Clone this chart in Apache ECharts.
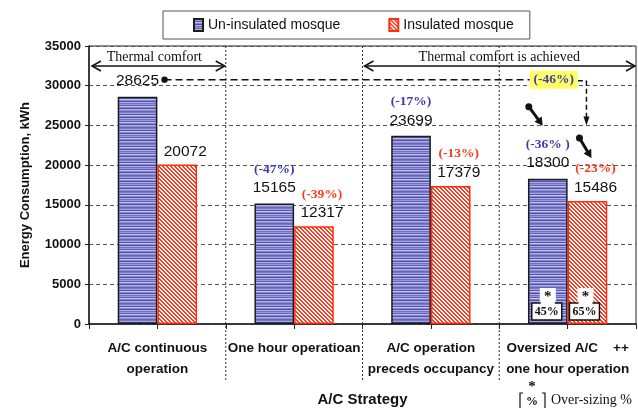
<!DOCTYPE html>
<html>
<head>
<meta charset="utf-8">
<script src="https://cdn.jsdelivr.net/npm/echarts@6/dist/echarts.min.js"></script>
<style>
  html, body { margin: 0; padding: 0; background: #fff; }
  #main { width: 638px; height: 408px; }
</style>
</head>
<body>
<div id="main"></div>
<script>
// values
const categories = [
  'A/C continuous\noperation',
  'One hour operatioan',
  'A/C operation\npreceds occupancy',
  'Oversized A/C    ++\none hour operation'
]
const uninsulated = [28625, 15165, 23699, 18300]
const insulated = [20072, 12317, 17379, 15486]
const uninsulatedPct = ['', '(-47%)', '(-17%)', '(-36% )']
const insulatedPct = ['', '(-39%)', '(-13%)', '(-23%)']
const overallPct = '(-46%)'
const oversizing = ['45%', '65%']
const yMin = 0
const yMax = 35000
const yStep = 5000

const SANS = '"Liberation Sans", Arial, sans-serif'
const SERIF = '"Liberation Serif", "Times New Roman", serif'
const BLUE_TXT = '#3c3cab'
const RED_TXT = '#ff3a1c'

// horizontal stripes for the blue bars
const blueStripes = () => {
  const c = document.createElement('canvas')
  c.width = 4
  c.height = 16
  const g = c.getContext('2d')
  const rows = ['#7878c8', '#a6a6de', '#5656b0', '#c8c8ec', '#8888d0', '#5050aa', '#aeaee2', '#7070c4',
    '#9696d8', '#6262b8', '#bebee8', '#8080cc', '#5454ae', '#acacdf', '#8e8ed2', '#6666ba']
  rows.forEach((col, i) => {
    g.fillStyle = col
    g.fillRect(0, i, 4, 1)
  })
  return c
}

// diagonal red hatch for the insulated bars
const redHatch = () => {
  const c = document.createElement('canvas')
  c.width = 4
  c.height = 4
  const g = c.getContext('2d')
  g.fillStyle = '#ffffff'
  g.fillRect(0, 0, 4, 4)
  g.fillStyle = '#ff3b1f'
  for (let x = 0; x < 4; x++) {
    for (let y = 0; y < 4; y++) {
      if ((x - y + 8) % 4 < 2) g.fillRect(x, y, 1, 1)
    }
  }
  return c
}

const labelRich = (pctColor) => ({
  p: { fontFamily: SERIF, fontWeight: 'bold', fontSize: 13.5, color: pctColor, lineHeight: 19 },
  v: { fontFamily: SANS, fontSize: 15.5, color: '#111', lineHeight: 19 }
})

const chart = echarts.init(document.getElementById('main'))

chart.setOption({
  animation: false,
  backgroundColor: '#fff',
  grid: {
    left: 89, right: 2, top: 46, bottom: 84,
    outerBoundsMode: 'none',
    containLabel: false,
    show: true, borderColor: '#222', borderWidth: 1
  },
  legend: {
    left: 163,
    top: 11,
    icon: 'rect',
    itemWidth: 9,
    itemHeight: 12,
    itemGap: 48,
    padding: [7, 16, 7, 30],
    borderColor: '#555',
    borderWidth: 1,
    textStyle: { fontFamily: SANS, fontSize: 14, color: '#111' }
  },
  xAxis: [{
    type: 'category',
    data: categories,
    name: 'A/C Strategy',
    nameLocation: 'middle',
    nameGap: 68,
    nameTextStyle: { fontFamily: SANS, fontWeight: 'bold', fontSize: 15, color: '#111' },
    axisLine: { lineStyle: { color: '#222', width: 1.5 } },
    axisTick: { show: false },
    axisLabel: {
      interval: 0,
      margin: 14,
      fontFamily: SANS,
      fontWeight: 'bold',
      fontSize: 13.5,
      lineHeight: 21,
      color: '#111'
    }
  }, {
    // half-category ticks along the bottom
    type: 'category',
    position: 'bottom',
    data: ['', '', '', '', '', '', '', ''],
    axisLine: { show: false },
    axisLabel: { show: false },
    axisTick: { show: true, length: 5, lineStyle: { color: '#222' } }
  }],
  yAxis: {
    type: 'value',
    min: yMin,
    max: yMax,
    interval: yStep,
    name: 'Energy Consumption, kWh',
    nameLocation: 'middle',
    nameGap: 57,
    nameTextStyle: { fontFamily: SANS, fontWeight: 'bold', fontSize: 13, color: '#111' },
    axisLine: { show: true, lineStyle: { color: '#222', width: 1.5 } },
    axisTick: { show: true, length: 4, lineStyle: { color: '#222' } },
    axisLabel: { margin: 8, fontFamily: SANS, fontWeight: 'bold', fontSize: 13, color: '#111', formatter: v => String(v) },
    splitLine: { lineStyle: { color: '#555', type: [4, 3] } }
  },
  series: [{
    name: 'Un-insulated mosque',
    type: 'bar',
    data: uninsulated,
    barGap: '0%',
    barCategoryGap: '42%',
    itemStyle: { color: { image: blueStripes(), repeat: 'repeat' }, borderColor: '#1c1c1c', borderWidth: 1.5 },
    label: {
      show: true,
      position: 'top',
      distance: 6,
      formatter: p => (uninsulatedPct[p.dataIndex] ? '{p|' + uninsulatedPct[p.dataIndex] + '}\n' : '') + '{v|' + p.value + '}',
      rich: labelRich(BLUE_TXT)
    }
  }, {
    name: 'Insulated mosque',
    type: 'bar',
    data: insulated,
    itemStyle: { color: { image: redHatch(), repeat: 'repeat' }, borderColor: '#ff2d10', borderWidth: 1.5 },
    label: {
      show: true,
      position: 'top',
      distance: 3.5,
      offset: [8, 0],
      formatter: p => (insulatedPct[p.dataIndex] ? '{p|' + insulatedPct[p.dataIndex] + '}\n' : '') + '{v|' + p.value + '}',
      rich: labelRich(RED_TXT)
    }
  }]
})

// annotations, placed from the axes' own scales
const px = i => chart.convertToPixel({ xAxisIndex: 0 }, i)
const py = v => chart.convertToPixel({ yAxisIndex: 0 }, v)

const step = px(1) - px(0)
const blueX = i => px(i) - step * 0.145
const redX = i => px(i) + step * 0.145
const bound = i => px(i) - step / 2
const yTop = py(yMax)
const y0 = py(yMin)
const gLeft = bound(0)
const gRight = bound(categories.length)

const g = []
const Z = 100

const line = (x1, y1, x2, y2, style) => g.push({ type: 'line', z: Z, shape: { x1, y1, x2, y2 }, style: Object.assign({ stroke: '#111', lineWidth: 1 }, style) })
const text = (x, y, t, style) => g.push({ type: 'text', z: Z + 1, x, y, style: Object.assign({ text: t, align: 'center', verticalAlign: 'middle', fill: '#111' }, style) })
const headAt = (tx, ty, fx, fy, len, half) => {
  const dx = tx - fx
  const dy = ty - fy
  const d = Math.sqrt(dx * dx + dy * dy)
  const ux = dx / d
  const uy = dy / d
  const bx = tx - ux * len
  const by = ty - uy * len
  g.push({ type: 'polygon', z: Z, shape: { points: [[tx, ty], [bx - uy * half, by + ux * half], [bx + uy * half, by - ux * half]] }, style: { fill: '#111' } })
}
const chevron = (x, y, dir) => g.push({ type: 'polyline', z: Z, shape: { points: [[x + dir * 9, y - 5], [x, y], [x + dir * 9, y + 5]] }, style: { stroke: '#111', lineWidth: 1.5, fill: null } })
const doubleArrow = (x1, x2, y) => {
  line(x1, y, x2, y, { lineWidth: 1.5 })
  chevron(x1, y, 1)
  chevron(x2, y, -1)
}

// dotted dividers between strategies
for (let i = 1; i < categories.length; i++) {
  line(bound(i), yTop, bound(i), y0 + 58, { stroke: '#333', lineDash: [2, 2] })
}

// thermal comfort spans
const arrowY = yTop + 20
doubleArrow(gLeft + 3, bound(1) - 1, arrowY)
text((gLeft + bound(1)) / 2 - 3, yTop + 11, 'Thermal comfort', { fontFamily: SERIF, fontSize: 14 })
doubleArrow(bound(2) + 2, gRight - 1, arrowY)
text((bound(2) + gRight) / 2, yTop + 11, 'Thermal comfort is achieved', { fontFamily: SERIF, fontSize: 14 })

// dashed link from the base case to the best case
const linkY = py(uninsulated[0]) - 17
const linkX0 = blueX(0) + 27
const boxCx = blueX(3) + 6
const boxL = boxCx - 24
const boxR = boxCx + 24
const dropX = redX(3) - 1
const dropY = py(25000)
g.push({ type: 'circle', z: Z, shape: { cx: linkX0, cy: linkY, r: 3.2 }, style: { fill: '#111' } })
line(linkX0, linkY, boxL, linkY, { lineWidth: 1.5, lineDash: [7, 4] })
line(boxR, linkY + 1, dropX, linkY + 1, { lineWidth: 1.5, lineDash: [5, 3] })
line(dropX, linkY + 1, dropX, dropY - 8, { lineWidth: 1.5, lineDash: [5, 3] })
headAt(dropX, dropY, dropX, dropY - 10, 9, 3)
g.push({ type: 'rect', z: Z, shape: { x: boxL, y: linkY - 9, width: boxR - boxL, height: 18 }, style: { fill: '#ffff66' } })
text(boxCx, linkY, overallPct, { fontFamily: SERIF, fontWeight: 'bold', fontSize: 13.5, fill: BLUE_TXT })

// pin arrows pointing at the oversized case labels
const pin = (x1, y1, x2, y2) => {
  g.push({ type: 'circle', z: Z, shape: { cx: x1, cy: y1, r: 3.5 }, style: { fill: '#111' } })
  const k = 0.72
  line(x1, y1, x1 + (x2 - x1) * k, y1 + (y2 - y1) * k, { lineWidth: 3 })
  headAt(x2, y2, x1, y1, 8, 4.5)
}
const b3 = py(uninsulated[3])
const r3 = py(insulated[3])
pin(blueX(3) - 19, b3 - 72, blueX(3) - 5, b3 - 53)
pin(redX(3) - 8, r3 - 63, redX(3) + 4, r3 - 43)

// over-sizing markers inside the last pair of bars
const sizeBox = (cx, t) => {
  g.push({ type: 'rect', z: Z, shape: { x: cx - 7, y: y0 - 36, width: 16, height: 16 }, style: { fill: '#fff' } })
  g.push({ type: 'rect', z: Z, shape: { x: cx - 15, y: y0 - 21, width: 30, height: 17 }, style: { fill: '#fff', stroke: '#111', lineWidth: 1.5 } })
  g.push({ type: 'rect', z: Z, shape: { x: cx - 6, y: y0 - 22.5, width: 14, height: 3 }, style: { fill: '#fff' } })
  text(cx + 1, y0 - 27, '*', { fontFamily: SERIF, fontWeight: 'bold', fontSize: 15 })
  text(cx, y0 - 12, t, { fontFamily: SERIF, fontSize: 12, fontWeight: 'bold' })
}
sizeBox(blueX(3) - 1, oversizing[0])
sizeBox(redX(3) - 3, oversizing[1])

// key for the over-sizing marker
const kx = 532
g.push({ type: 'polyline', z: Z, shape: { points: [[kx - 9, 393], [kx - 12, 393], [kx - 12, 410]] }, style: { stroke: '#111', lineWidth: 1.2, fill: null } })
g.push({ type: 'polyline', z: Z, shape: { points: [[kx + 10, 393], [kx + 13, 393], [kx + 13, 410]] }, style: { stroke: '#111', lineWidth: 1.2, fill: null } })
text(kx, 387, '*', { fontFamily: SERIF, fontWeight: 'bold', fontSize: 15 })
text(kx, 402, '%', { fontFamily: SERIF, fontSize: 12, fontWeight: 'bold' })
text(kx + 19, 400, 'Over-sizing %', { fontFamily: SERIF, fontSize: 14, align: 'left' })

chart.setOption({ graphic: g })
</script>
</body>
</html>
